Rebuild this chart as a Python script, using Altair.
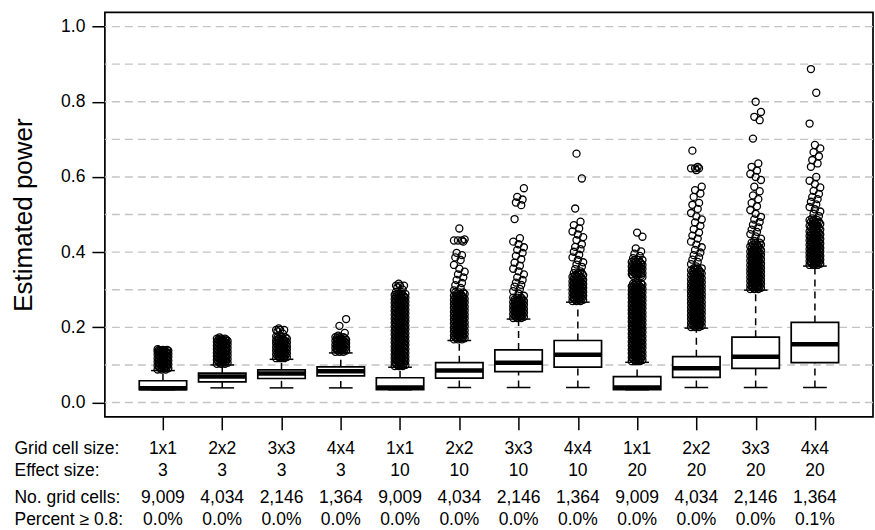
import altair as alt
import pandas as pd

FONT = "Liberation Sans"

# ---- table / category data ----
grid_size = ["1x1", "2x2", "3x3", "4x4"] * 3
effect_size = ["3"] * 4 + ["10"] * 4 + ["20"] * 4
n_cells = ["9,009", "4,034", "2,146", "1,364"] * 3
pct_ge_08 = ["0.0%"] * 11 + ["0.1%"]
row_names = ["Grid cell size:", "Effect size:", "No. grid cells:", "Percent \u2265 0.8:"]

# ---- box statistics (estimated power) ----
whisk_lo = [0.034, 0.039, 0.039, 0.039, 0.034, 0.040, 0.040, 0.040, 0.034, 0.040, 0.040, 0.040]
q1 = [0.034, 0.055, 0.064, 0.071, 0.034, 0.065, 0.082, 0.094, 0.034, 0.067, 0.091, 0.106]
median = [0.038, 0.069, 0.077, 0.083, 0.040, 0.085, 0.106, 0.127, 0.040, 0.091, 0.122, 0.155]
q3 = [0.058, 0.078, 0.087, 0.095, 0.066, 0.106, 0.140, 0.165, 0.069, 0.122, 0.174, 0.213]
whisk_hi = [0.085, 0.100, 0.115, 0.132, 0.094, 0.165, 0.222, 0.267, 0.107, 0.198, 0.299, 0.363]

# ---- outliers, in thousandths of estimated power ----
out_g1 = [88, 91, 95, 98, 101, 104, 108, 111, 114, 117, 121, 124, 127, 130, 133, 136, 138, 140, 142]
out_g2 = [103, 106, 110, 113, 116, 119, 123, 126, 129, 132, 135, 139, 142, 145, 148, 151, 155,
          158, 161, 164, 167, 170, 173]
out_g3 = [118, 121, 125, 128, 131, 134, 138, 141, 144, 147, 150, 154, 157, 160, 163, 166, 170,
          173, 176, 183, 189, 193, 197]
out_g4 = [135, 138, 141, 145, 148, 151, 154, 158, 161, 164, 167, 171, 174, 178, 185, 204, 222]
out_g5 = [97, 100, 104, 107, 111, 114, 118, 121, 125, 128, 132, 135, 139, 142, 146, 149, 153,
          156, 160, 163, 167, 170, 174, 177, 181, 184, 188, 191, 195, 198, 202, 205, 209, 212,
          216, 219, 223, 226, 230, 233, 237, 240, 244, 247, 251, 254, 258, 261, 265, 268, 272,
          275, 279, 282, 286, 289, 294, 300, 306, 311, 316]
out_g6 = [168, 171, 175, 178, 182, 185, 189, 192, 196, 199, 203, 206, 210, 213, 217, 220, 224,
          227, 231, 234, 238, 241, 245, 248, 252, 255, 259, 262, 266, 269, 273, 276, 280, 284,
          289, 293, 298, 305, 312, 318, 326, 333, 341, 348, 356, 366, 379, 386, 392, 398, 428,
          431, 434, 463]
out_g7 = [225, 228, 232, 235, 239, 242, 246, 249, 253, 256, 260, 263, 267, 270, 274, 279, 284,
          290, 296, 302, 308, 313, 319, 326, 333, 341, 349, 356, 364, 372, 381, 390, 398, 406,
          413, 421, 428, 437, 488, 525, 532, 540, 547, 570]
out_g8 = [270, 273, 277, 280, 284, 287, 291, 294, 298, 301, 305, 308, 312, 315, 319, 322, 326,
          330, 334, 339, 344, 349, 355, 361, 367, 373, 379, 386, 393, 401, 408, 414, 421, 432,
          440, 447, 455, 463, 472, 481, 516, 596, 662]
out_g9 = [110, 113, 117, 120, 124, 127, 131, 134, 138, 141, 145, 148, 152, 155, 159, 162, 166,
          169, 173, 176, 180, 183, 187, 190, 194, 197, 201, 204, 208, 211, 215, 218, 222, 225,
          229, 232, 236, 239, 243, 246, 250, 253, 257, 260, 264, 267, 271, 274, 278, 281, 285,
          288, 292, 295, 299, 302, 306, 309, 313, 316, 320, 334, 337, 341, 344, 348, 351, 355,
          358, 362, 366, 370, 374, 379, 384, 390, 396, 402, 410, 441, 452]
out_g10 = [201, 204, 208, 211, 215, 218, 222, 225, 229, 232, 236, 239, 243, 246, 250, 253, 257,
           260, 264, 267, 271, 274, 278, 281, 285, 288, 292, 295, 299, 302, 306, 309, 313, 316,
           320, 323, 327, 331, 335, 339, 343, 347, 352, 357, 362, 368, 374, 380, 386, 392, 399,
           406, 413, 420, 428, 436, 444, 452, 461, 470, 479, 487, 495, 504, 515, 526, 531, 547,
           556, 565, 574, 618, 623, 627, 670]
out_g11 = [302, 305, 309, 312, 316, 319, 323, 326, 330, 333, 337, 340, 344, 347, 351, 354, 358,
           361, 365, 369, 373, 377, 381, 385, 389, 393, 397, 401, 405, 410, 415, 420, 425, 430,
           436, 442, 448, 454, 460, 466, 473, 480, 487, 494, 502, 512, 522, 531, 541, 551, 562,
           574, 592, 600, 608, 617, 627, 636, 702, 751, 760, 773, 800]
out_g12 = [366, 369, 373, 376, 380, 383, 387, 390, 394, 397, 401, 404, 408, 411, 415, 419, 423,
           427, 431, 435, 439, 443, 447, 451, 455, 460, 465, 470, 475, 480, 485, 490, 496, 502,
           508, 514, 520, 527, 534, 541, 547, 555, 563, 572, 581, 590, 600, 627, 636, 645, 655,
           666, 676, 685, 742, 824, 887]
outliers = [out_g1, out_g2, out_g3, out_g4, out_g5, out_g6, out_g7, out_g8, out_g9, out_g10,
            out_g11, out_g12]

gridlines = [0.0, 0.1, 0.2, 0.3, 0.4, 0.5, 0.6, 0.7, 0.8, 0.9, 1.0]
y_ticks = [0.0, 0.2, 0.4, 0.6, 0.8, 1.0]

# ---- build tables ----
positions = list(range(1, 13))
stats = pd.DataFrame(dict(pos=positions, lo=whisk_lo, q1=q1, med=median, q3=q3, hi=whisk_hi))

JIT = 0.09  # horizontal jitter half-width in x units (layout only)
pts = []
for p, vals in zip(positions, outliers):
    n = len(vals)
    for k, v in enumerate(vals):
        gap_prev = v - vals[k - 1] if k > 0 else 0
        gap_next = vals[k + 1] - v if k < n - 1 else 99
        dense = gap_prev <= 5 and gap_next <= 5
        phases = [0, 3, 6] if dense else [0]  # dense runs drawn at several jitter phases
        for ph in phases:
            jit = ((((k * 5) + ph) % 9) - 4) / 4 * JIT
            pts.append(dict(pos=p, x=p + jit, v=v / 1000))
pts = pd.DataFrame(pts)

grid_df = pd.DataFrame(dict(g=gridlines))

# table row placement (layout): small extra gap before the third row, as in the original
ROW_SLOT = [0.0, 1.0, 2.25, 3.25]
tab = []
for p, a, b, c, d in zip(positions, grid_size, effect_size, n_cells, pct_ge_08):
    for slot, t in zip(ROW_SLOT, [a, b, c, d]):
        tab.append(dict(pos=p, slot=slot, label=t))
tab = pd.DataFrame(tab)
label_expr = " : ".join(
    f"datum.value == {s} ? '{r}'" for s, r in zip(ROW_SLOT, row_names)
) + " : ''"

# ---- scales & axes ----
XS = alt.Scale(domain=[0.02, 12.98], nice=False, zero=False)
YS = alt.Scale(domain=[-0.038, 1.038], nice=False, zero=False)
W, H = 769, 405
BOXW, STAPW = 0.4, 0.2

AX_X = alt.Axis(values=positions, labels=False, domain=False, grid=False, title=None,
                tickSize=13, tickWidth=1.5, tickColor="black")
AX_Y = alt.Axis(values=y_ticks, format=".1f", domain=False, grid=False,
                tickSize=13, tickWidth=1.5, tickColor="black",
                labelPadding=7, labelFontSize=17.5, labelColor="black",
                title="Estimated power", titleFontSize=26, titleFontWeight="normal",
                titleColor="black", titleX=-73, titleBaseline="alphabetic")


def X(f):
    return alt.X(f, scale=XS, axis=AX_X, title=None)


def Y(f):
    return alt.Y(f, scale=YS, axis=AX_Y, title="Estimated power")


grid = alt.Chart(grid_df).mark_rule(color="#C4C4C4", strokeWidth=1.4, strokeDash=[8, 5]).encode(
    y=Y("g:Q")
)

base = alt.Chart(stats).transform_calculate(
    xl=f"datum.pos - {BOXW}", xr=f"datum.pos + {BOXW}",
    sl=f"datum.pos - {STAPW}", sr=f"datum.pos + {STAPW}",
)

whisk_up = base.mark_rule(color="black", strokeWidth=1.5, strokeDash=[7, 5]).encode(
    x=X("pos:Q"), y=Y("q3:Q"), y2="hi:Q")
whisk_dn = base.mark_rule(color="black", strokeWidth=1.5, strokeDash=[7, 5]).encode(
    x=X("pos:Q"), y=Y("lo:Q"), y2="q1:Q")
staple_up = base.mark_rule(color="black", strokeWidth=1.5).encode(
    x=X("sl:Q"), x2="sr:Q", y=Y("hi:Q"))
staple_dn = base.mark_rule(color="black", strokeWidth=1.5).encode(
    x=X("sl:Q"), x2="sr:Q", y=Y("lo:Q"))
boxes = base.mark_rect(fill="white", stroke="black", strokeWidth=1.7).encode(
    x=X("xl:Q"), x2="xr:Q", y=Y("q1:Q"), y2="q3:Q")
medians = base.mark_rule(color="black", strokeWidth=4.5, strokeCap="butt").encode(
    x=X("xl:Q"), x2="xr:Q", y=Y("med:Q"))
points = alt.Chart(pts).mark_point(shape="circle", filled=False, color="black",
                                   strokeWidth=1.3, size=50, opacity=1).encode(
    x=X("x:Q"), y=Y("v:Q"))

top = alt.layer(grid, whisk_up, whisk_dn, staple_up, staple_dn, boxes, medians, points).properties(
    width=W, height=H,
    view=alt.ViewBackground(stroke="black", strokeWidth=1.7),
)

table = alt.Chart(tab).mark_text(fontSize=17.5, baseline="alphabetic", align="center",
                                 color="black").encode(
    x=alt.X("pos:Q", scale=XS, axis=None),
    y=alt.Y("slot:Q", scale=alt.Scale(domain=[ROW_SLOT[0], ROW_SLOT[-1]], reverse=True,
                                      nice=False, zero=False),
            axis=alt.Axis(title=None, domain=False, ticks=False, tickSize=0, grid=False,
                          values=ROW_SLOT, labelExpr=label_expr,
                          labelAlign="left", labelPadding=91, labelFontSize=17.5,
                          labelBaseline="alphabetic", labelColor="black")),
    text="label:N",
).properties(width=W, height=71)

chart = alt.vconcat(top, table, spacing=8).properties(
    padding={"left": 10, "top": 11, "right": 0, "bottom": 0}
).configure_view(stroke=None).configure_axis(
    labelFont=FONT, titleFont=FONT
).configure_text(font=FONT)

chart.save("out.html", embed_options={"renderer": "svg", "actions": False})
